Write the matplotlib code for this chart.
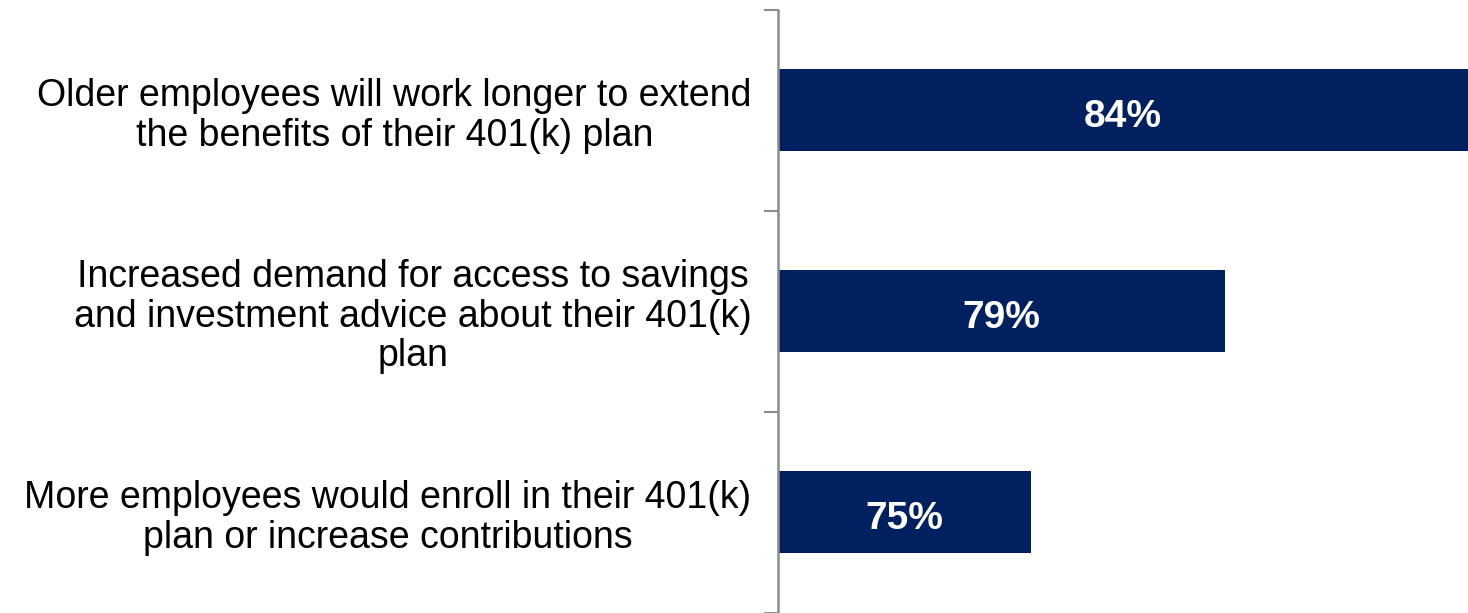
import matplotlib
matplotlib.use("Agg")
import matplotlib.pyplot as plt

plt.rcParams['font.family'] = ['Liberation Sans', 'DejaVu Sans']

# survey answers, top to bottom
labels = [
    "Older employees will work longer to extend\nthe benefits of their 401(k) plan",
    "Increased demand for access to savings\nand investment advice about their 401(k)\nplan",
    "More employees would enroll in their 401(k)\nplan or increase contributions",
]
values = [84, 79, 75]

bar_color = "#002060"
axis_color = "#8c8c8c"
x_min, x_max = 69.8, 84

fig = plt.figure(figsize=(14.68, 6.13), dpi=100)
ax = fig.add_axes([778 / 1468, 0.0008, 690 / 1468, 0.9837])

pos = list(range(len(values)))
ax.barh(pos, values, height=0.405, color=bar_color)

ax.set_xlim(x_min, x_max)
ax.set_ylim(len(values) - 0.5, -0.5)

# value labels in the middle of the visible part of each bar
for i, v in enumerate(values):
    ax.annotate(f"{v}%", ((x_min + v) / 2, i), xytext=(0, -5),
                textcoords="offset points", ha="center", va="center",
                color="white", fontsize=28, fontweight="bold")

ax.set_yticks(pos)
ax.set_yticklabels(labels, fontsize=27, multialignment="center", linespacing=1.13)
ax.tick_params(axis="y", which="major", length=0, pad=19)
ax.set_yticks([p - 0.5 for p in pos] + [len(values) - 0.5], minor=True)
ax.tick_params(axis="y", which="minor", length=10, width=1.5, color=axis_color)

ax.set_xticks([])
for side in ["top", "right", "bottom"]:
    ax.spines[side].set_visible(False)
ax.spines["left"].set_color(axis_color)
ax.spines["left"].set_linewidth(1.8)

fig.savefig("out.png", dpi=100)
